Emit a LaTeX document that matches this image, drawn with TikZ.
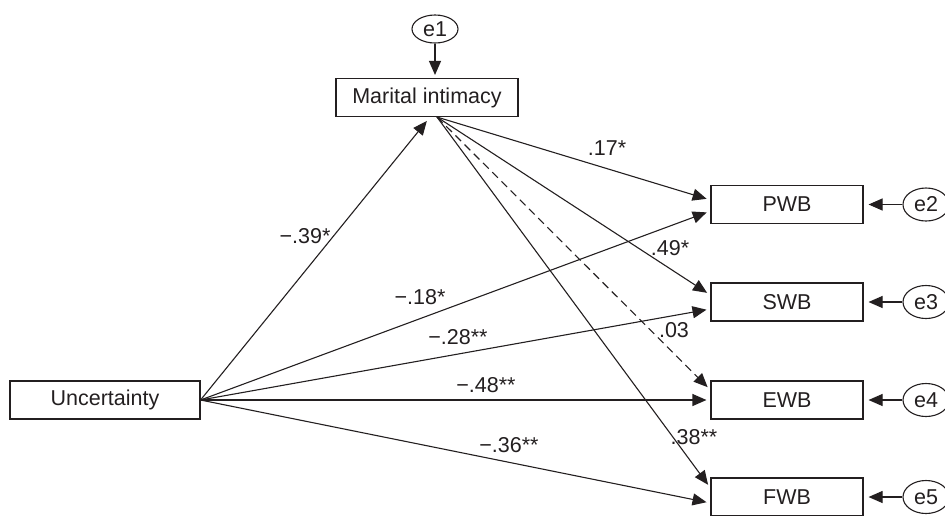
\documentclass[tikz,border=0pt]{standalone}
\usepackage{fontspec}
\setmainfont{Liberation Sans}
\usetikzlibrary{positioning,arrows.meta,calc,shapes.geometric}
\definecolor{ink}{RGB}{35,31,32}

\begin{document}
\begin{tikzpicture}[x=1pt, y=-1pt, font=\fontsize{21.5}{25}\selectfont,
  var/.style={draw=ink, line width=1.1pt, minimum height=38pt, inner sep=0pt, text=ink},
  err/.style={draw=ink, line width=1.1pt, ellipse, minimum width=46pt, minimum height=33pt, inner sep=0pt, text=ink},
  coef/.style={text=ink, inner sep=0pt},
  path/.style={-{Triangle[length=14pt,width=12pt]}, line width=1.1pt, draw=ink, shorten >=4pt}]
  \clip (0,0) rectangle (945,515);
  % observed variables
  \node[var, minimum width=182pt] (intimacy) at (427,97.5) {Marital intimacy};
  \node[var, minimum width=190pt] (uncert) at (105,400) {Uncertainty};
  \node[var, minimum width=152pt] (pwb) at (787,204.5) {PWB};
  \node[var, minimum width=152pt] (swb) at (787,302) {SWB};
  \node[var, minimum width=152pt] (ewb) at (787,400) {EWB};
  \node[var, minimum width=152pt] (fwb) at (787,497) {FWB};
  % error terms
  \node[err, minimum height=28pt] (e1) at (435,29) {e1};
  \node[err] (e2) at (926,204.5) {e2};
  \node[err] (e3) at (926,302) {e3};
  \node[err] (e4) at (926,400) {e4};
  \node[err] (e5) at (926,497) {e5};
  \draw[path, shorten >=3pt] (e1.south) -- (e1.south |- intimacy.north);
  \draw[path, shorten >=5pt] (e2.west) -- (pwb.east);
  \draw[path, shorten >=5pt] (e3.west) -- (swb.east);
  \draw[path, shorten >=5pt] (e4.west) -- (ewb.east);
  \draw[path, shorten >=5pt] (e5.west) -- (fwb.east);
  % paths
  \coordinate (mi) at ($(intimacy.south)+(10,0)$);
  \draw[path, shorten >=5pt] (uncert.east) -- ($(intimacy.south)+(3,0)$);
  \draw[path] (mi) -- ($(pwb.west)+(0,-4.5)$);
  \draw[path] (mi) -- ($(swb.west)+(0,-7)$);
  \draw[path, dash pattern=on 8pt off 5pt] (mi) -- ($(ewb.west)+(0,-10)$);
  \draw[path] (mi) -- ($(fwb.west)+(0,-9)$);
  \draw[path] (uncert.east) -- ($(pwb.west)+(0,6.5)$);
  \draw[path] (uncert.east) -- ($(swb.west)+(0,7)$);
  \draw[path] (uncert.east) -- (ewb.west);
  \draw[path] (uncert.east) -- ($(fwb.west)+(0,6)$);
  % coefficients
  \node[coef] (c1) at (305,236) {−.39*};
  \node[coef] (c2) at (607,148) {.17*};
  \node[coef] (c3) at (670,248) {.49*};
  \node[coef] (c4) at (674,330) {.03};
  \node[coef] (c5) at (694,437) {.38**};
  \node[coef] (c6) at (420,297) {−.18*};
  \node[coef] (c7) at (458,337) {−.28**};
  \node[coef] (c8) at (486,385) {−.48**};
  \node[coef] (c9) at (509,445) {−.36**};
\end{tikzpicture}
\end{document}
